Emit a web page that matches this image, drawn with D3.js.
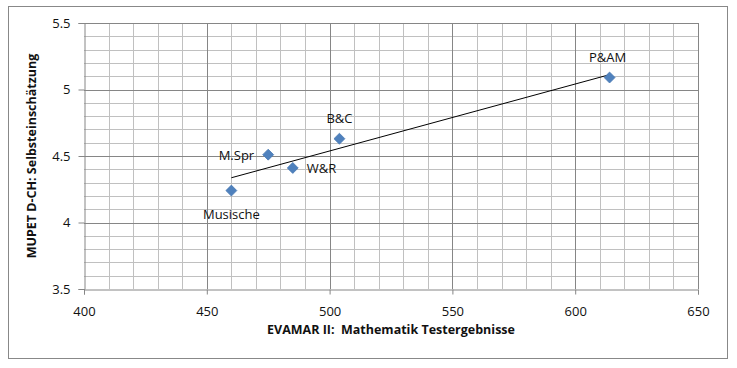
<!DOCTYPE html>
<html>
<head>
<meta charset="utf-8">
<script src="https://cdn.jsdelivr.net/npm/d3@7"></script>
<style>
  body { margin: 0; background: #fff; }
  text { font-family: "Open Sans", "Noto Sans", sans-serif; fill: #111; }
</style>
</head>
<body>
<div id="chart"></div>
<script>
// Data
var labels = ["Musische", "M.Spr", "W&R", "B&C", "P&AM"];
var mathScores = [460, 475, 485, 504, 614];
var selfRatings = [4.24, 4.51, 4.41, 4.63, 5.09];
var xTicks = [400, 450, 500, 550, 600, 650];
var yTicks = [3.5, 4, 4.5, 5, 5.5];

// label placement relative to the marker
var labelPos = [{"dx": 0, "dy": 28, "a": "middle"},
    {"dx": -14, "dy": 5, "a": "end"},
    {"dx": 14, "dy": 5, "a": "start"},
    {"dx": 0, "dy": -16, "a": "middle"},
    {"dx": -2, "dy": -16, "a": "middle"}];

var width = 737, height = 368;
var m = {left: 84, right: 39, top: 23, bottom: 79};

var svg = d3.select("#chart")
    .append("svg")
    .attr("width", width)
    .attr("height", height);

svg.append("rect")
    .attr("x", 8.5)
    .attr("y", 6.5)
    .attr("width", 719)
    .attr("height", 352)
    .attr("fill", "#fff")
    .attr("stroke", "#888")
    .attr("stroke-width", 1);

var x = d3.scaleLinear().domain([400, 650]).range([m.left, width - m.right]);
var y = d3.scaleLinear().domain([3.5, 5.5]).range([height - m.bottom, m.top]);

// minor grid
var g = svg.append("g");
g.selectAll("line.vx")
    .data(d3.range(410, 650, 10).filter(function(d) { return d % 50 != 0; }))
    .enter()
    .append("line")
    .attr("x1", function(d) { return Math.round(x(d)) + 0.5; })
    .attr("x2", function(d) { return Math.round(x(d)) + 0.5; })
    .attr("y1", y(3.5))
    .attr("y2", y(5.5))
    .attr("stroke", "#c0c0c0");
g.selectAll("line.hy")
    .data(d3.range(36, 55, 1).map(function(d) { return d / 10; }).filter(function(d) { return Math.round(d * 10) % 5 != 0; }))
    .enter()
    .append("line")
    .attr("y1", function(d) { return Math.round(y(d)) + 0.5; })
    .attr("y2", function(d) { return Math.round(y(d)) + 0.5; })
    .attr("x1", x(400))
    .attr("x2", x(650))
    .attr("stroke", "#c0c0c0");

// major grid
g.selectAll("line.mx")
    .data(xTicks.slice(1))
    .enter()
    .append("line")
    .attr("x1", function(d) { return Math.round(x(d)) + 0.5; })
    .attr("x2", function(d) { return Math.round(x(d)) + 0.5; })
    .attr("y1", y(3.5))
    .attr("y2", y(5.5))
    .attr("stroke", "#868686");
g.selectAll("line.my")
    .data(yTicks.slice(1))
    .enter()
    .append("line")
    .attr("y1", function(d) { return Math.round(y(d)) + 0.5; })
    .attr("y2", function(d) { return Math.round(y(d)) + 0.5; })
    .attr("x1", x(400))
    .attr("x2", x(650))
    .attr("stroke", "#868686");

// axes
var xAxis = svg.append("g")
    .attr("transform", "translate(0," + (Math.round(y(3.5)) + 0.5) + ")")
    .call(d3.axisBottom(x).tickValues(xTicks).tickSize(5).tickPadding(12).tickFormat(d3.format("d")));
var yAxis = svg.append("g")
    .attr("transform", "translate(" + (Math.round(x(400)) + 0.5) + ",0)")
    .call(d3.axisLeft(y).tickValues(yTicks).tickSize(6).tickPadding(8).tickFormat(function(d) { return d; }));
[xAxis, yAxis].forEach(function(a) {
    a.select(".domain").attr("stroke", "#868686");
    a.selectAll(".tick line").attr("stroke", "#868686");
    a.selectAll(".tick text")
        .style("font-family", "'Open Sans', sans-serif")
        .style("font-size", "13px")
        .attr("fill", "#111");
});

// trend line (least squares fit of the points)
var mx = d3.mean(mathScores), my = d3.mean(selfRatings);
var sxy = d3.sum(mathScores, function(d, i) { return (d - mx) * (selfRatings[i] - my); });
var sxx = d3.sum(mathScores, function(d) { return (d - mx) * (d - mx); });
var slope = sxy / sxx, icpt = my - slope * mx;
var x0 = d3.min(mathScores), x1 = d3.max(mathScores);
svg.append("line")
    .attr("x1", x(x0))
    .attr("y1", y(icpt + slope * x0))
    .attr("x2", x(x1))
    .attr("y2", y(icpt + slope * x1))
    .attr("stroke", "#000")
    .attr("stroke-width", 1);

// points
var pts = labels.map(function(l, i) { return {"l": l, "x": mathScores[i], "y": selfRatings[i], "p": labelPos[i]}; });
svg.selectAll("path.pt")
    .data(pts)
    .enter()
    .append("path")
    .attr("d", d3.symbol().type(d3.symbolDiamond2).size(76))
    .attr("transform", function(d) { return "translate(" + x(d.x) + "," + y(d.y) + ")"; })
    .attr("fill", "#4f81bd")
    .attr("stroke", "#4a7ab3")
    .attr("stroke-width", 0.8);

svg.selectAll("text.lbl")
    .data(pts)
    .enter()
    .append("text")
    .attr("x", function(d) { return x(d.x) + d.p.dx; })
    .attr("y", function(d) { return y(d.y) + d.p.dy; })
    .attr("text-anchor", function(d) { return d.p.a; })
    .style("font-size", "13px")
    .text(function(d) { return d.l; });

// axis titles
svg.append("text")
    .attr("x", 391)
    .attr("y", 334)
    .attr("text-anchor", "middle")
    .style("font-size", "12.5px")
    .style("font-weight", "bold")
    .style("white-space", "pre")
    .attr("xml:space", "preserve")
    .text("EVAMAR II:  Mathematik Testergebnisse");
svg.append("text")
    .attr("transform", "translate(36,156) rotate(-90)")
    .attr("text-anchor", "middle")
    .style("font-size", "12.5px")
    .style("font-weight", "bold")
    .text("MUPET D-CH: Selbsteinschätzung");
</script>
</body>
</html>
